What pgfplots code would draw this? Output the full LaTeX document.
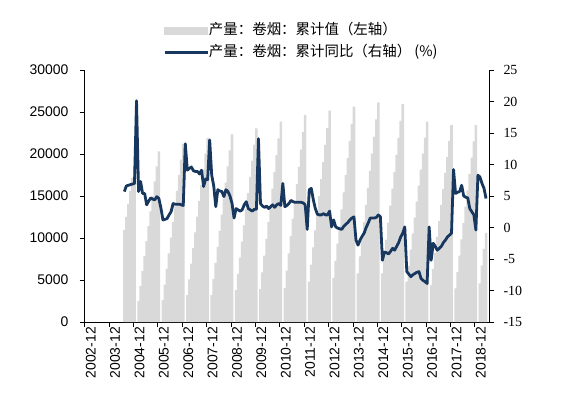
\documentclass[border=0pt]{standalone}
\usepackage{pgfplots}
\usepackage{pgfplotstable}
\pgfplotsset{compat=1.18}
\usepackage{fontspec}
\setmainfont{Liberation Sans}
\newfontfamily\serifnum{Liberation Serif}
\newfontfamily\cjk{Noto Sans CJK SC}
\definecolor{barGrey}{HTML}{D9D9D9}
\definecolor{lineNavy}{HTML}{17375E}

% cumulative output (left axis); month index 0 = 2002-12, January not reported
\pgfplotstableread{
m v
19 10950
20 12500
21 14050
22 15600
23 17150
24 18700
26 2500
27 4280
28 6060
29 7840
30 9620
31 11400
32 13180
33 14960
34 16740
35 18520
36 20300
38 2600
39 4460
40 6320
41 8180
42 10040
43 11900
44 13760
45 15620
46 17480
47 19340
48 21200
50 3200
51 5070
52 6940
53 8810
54 10680
55 12550
56 14420
57 16290
58 18160
59 20030
60 21900
62 3200
63 5115
64 7030
65 8945
66 10860
67 12775
68 14690
69 16605
70 18520
71 20435
72 22350
74 3800
75 5725
76 7650
77 9575
78 11500
79 13425
80 15350
81 17275
82 19200
83 21125
84 23050
86 3900
87 5895
88 7890
89 9885
90 11880
91 13875
92 15870
93 17865
94 19860
95 21855
96 23850
98 4050
99 6110
100 8170
101 10230
102 12290
103 14350
104 16410
105 18470
106 20530
107 22590
108 24650
110 4800
111 6835
112 8870
113 10905
114 12940
115 14975
116 17010
117 19045
118 21080
119 23115
120 25150
122 5240
123 7280
124 9320
125 11360
126 13400
127 15440
128 17480
129 19520
130 21560
131 23600
132 25650
134 5780
135 7820
136 9850
137 11890
138 13930
139 15960
140 18000
141 20040
142 22070
143 24110
144 26150
146 5780
147 7800
148 9810
149 11830
150 13850
151 15870
152 17880
153 19900
154 21920
155 23930
156 25950
158 4800
159 6700
160 8610
161 10520
162 12420
163 14330
164 16230
165 18140
166 20040
167 21950
168 23850
170 4400
171 6310
172 8210
173 10120
174 12020
175 13930
176 15830
177 17740
178 19640
179 21550
180 23450
182 4000
183 5950
184 7890
185 9840
186 11780
187 13730
188 15670
189 17620
190 19560
191 21510
192 23450
194 4600
195 6700
196 8700
197 10600
}\prodtable

% cumulative year-on-year change, % (right axis)
\pgfplotstableread{
m v
19 5.7
20 6.6
21 6.7
22 6.8
23 6.9
24 7.0
25 20.1
26 5.7
27 7.3
28 5.4
29 5.4
30 3.6
31 4.2
32 4.7
33 4.5
34 4.4
35 4.9
36 4.6
37 3.1
38 1.2
39 1.3
40 1.4
41 2.0
42 2.5
43 3.8
44 3.7
45 3.7
46 3.7
47 3.6
48 3.5
49 13.3
50 9.1
51 9.4
52 9.6
53 9.0
54 8.9
55 8.9
56 8.5
57 9.1
58 6.5
59 7.7
60 7.6
61 13.9
62 8.3
63 6.6
64 3.3
65 6.0
66 5.8
67 5.7
68 4.9
69 6.0
70 5.7
71 5.0
72 3.8
73 1.5
74 3.0
75 2.8
76 2.6
77 2.8
78 3.6
79 4.1
80 3.0
81 2.8
82 2.6
83 2.9
84 2.9
85 14.1
86 3.8
87 3.4
88 3.2
89 3.4
90 3.0
91 3.3
92 3.6
93 3.2
94 3.6
95 3.8
96 3.5
97 7.0
98 3.3
99 3.5
100 3.8
101 4.3
102 4.1
103 4.0
104 4.0
105 4.0
106 4.0
107 3.9
108 3.6
109 -0.3
110 6.0
111 6.2
112 4.4
113 3.0
114 2.1
115 2.0
116 2.0
117 2.2
118 2.0
119 2.0
120 2.6
121 0.1
122 1.2
123 0.1
124 -0.1
125 -0.2
126 -0.3
127 0.2
128 0.5
129 0.8
130 1.2
131 1.5
132 1.7
133 -2.0
134 -2.8
135 -2.0
136 -1.4
137 -0.9
138 0.0
139 0.7
140 1.5
141 1.5
142 1.5
143 1.6
144 2.0
145 1.7
146 -5.2
147 -3.9
148 -4.0
149 -4.2
150 -3.8
151 -3.3
152 -3.6
153 -3.0
154 -2.4
155 -1.5
156 -0.9
157 0.1
158 -7.0
159 -7.4
160 -7.8
161 -7.5
162 -7.3
163 -7.1
164 -7.0
165 -8.1
166 -8.4
167 -8.6
168 -8.9
169 0.1
170 -5.2
171 -2.5
172 -3.0
173 -3.6
174 -3.3
175 -3.0
176 -2.4
177 -2.0
178 -1.5
179 -1.2
180 -0.9
181 9.2
182 5.4
183 5.6
184 5.7
185 6.7
186 5.0
187 4.8
188 4.7
189 3.0
190 2.5
191 2.0
192 -0.4
193 8.3
194 8.0
195 7.0
196 6.2
197 4.6
}\yoytable

\pgfplotsset{
  base/.style={
    at={(84.7bp,84bp)}, anchor=south west,
    scale only axis, width=404.6bp, height=252bp,
    xmin=-0.5, xmax=198.6,
    axis line style={black, line width=0.8bp},
    tick style={black, line width=0.8bp},
    tick align=outside, major tick length=5bp,
    /pgf/number format/assume math mode=true,
    /pgf/number format/1000 sep={},
    scaled y ticks=false,
    clip=false,
  }
}

\begin{document}
\begin{tikzpicture}
\useasboundingbox (0,0) rectangle (566bp,406bp);

\begin{axis}[
  base,
  ybar, bar width=2.6bp, bar shift=0pt,
  ymin=0, ymax=30000,
  axis x line*=bottom, axis y line*=left,
  ytick={0,5000,...,30000},
  yticklabel style={font=\fontsize{14}{16}\selectfont, anchor=east, inner sep=0pt, xshift=-11bp},
  xtick={-0.5,11.5,...,191.5},
  xticklabels={2002-12,2003-12,2004-12,2005-12,2006-12,2007-12,2008-12,2009-12,2010-12,2011-12,2012-12,2013-12,2014-12,2015-12,2016-12,2017-12,2018-12},
  xticklabel style={font=\fontsize{14}{16}\selectfont, rotate=90, anchor=east, inner sep=0pt, yshift=-6bp},
]
\addplot[fill=barGrey, draw=none] table[x=m, y=v] {\prodtable};
\end{axis}

\begin{axis}[
  base,
  ymin=-15, ymax=25,
  axis x line=none, axis y line*=right,
  ytick={-15,-10,...,25},
  yticklabel style={font=\serifnum\fontsize{14}{16}\selectfont, anchor=west, inner sep=0pt, xshift=9bp},
  legend style={
    at={(axis description cs:0.1935,1.113)}, anchor=west,
    draw=none, fill=none, inner sep=0pt, row sep=8bp,
    font=\cjk\fontsize{14.5}{16}\selectfont,
    nodes={inner sep=0pt, text height=11bp, text depth=3bp},
    /tikz/every even column/.append style={column sep=5bp},
  },
  legend cell align=left,
]
\addlegendimage{legend image code/.code={\fill[barGrey] (0bp,-3.5bp) rectangle (43bp,3.5bp);}}
\addlegendentry{产量：卷烟：累计值（左轴）}
\addplot[lineNavy, line width=2.8bp, line join=round,
  legend image code/.code={\draw[lineNavy, line width=2.8bp] (0bp,0bp) -- (43bp,0bp);}]
  table[x=m, y=v] {\yoytable};
\addlegendentry{产量：卷烟：累计同比（右轴） (\%)}
\end{axis}
\end{tikzpicture}
\end{document}
